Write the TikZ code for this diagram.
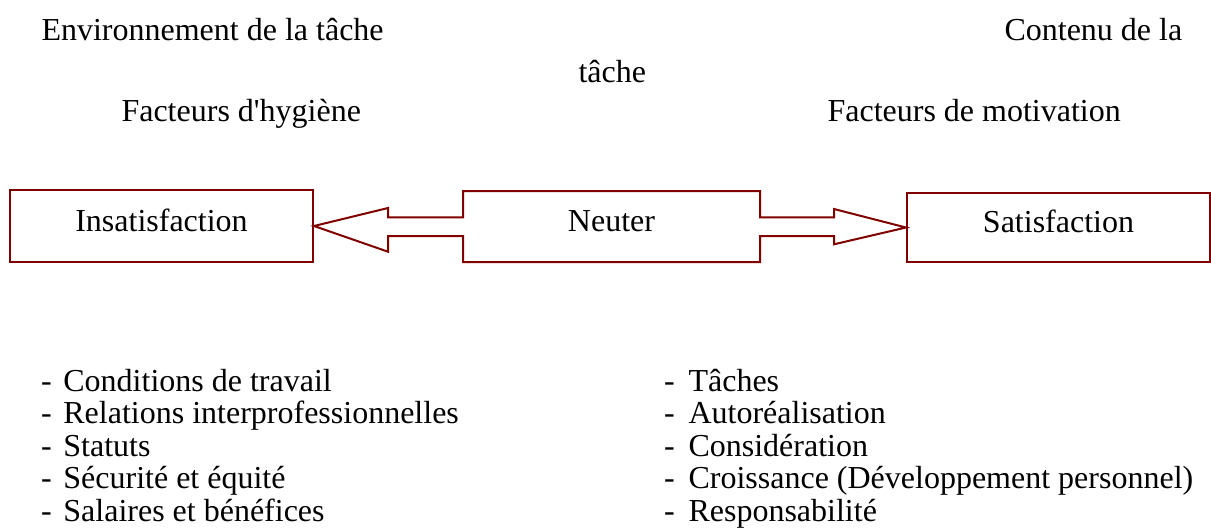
\documentclass[tikz,border=0pt]{standalone}
\usepackage{fontspec}
\setmainfont{Liberation Serif}
\usetikzlibrary{calc}
\definecolor{frame}{RGB}{128,0,0}
\begin{document}
\begin{tikzpicture}[x=0.375pt,y=-0.375pt,
  txt/.style={inner sep=0pt,font=\fontsize{12}{14}\selectfont},
  label/.style={txt,anchor=base west},
  boxed/.style={draw=frame,line width=0.75pt,inner sep=0pt,
    text height=9pt,text depth=5pt,font=\fontsize{12}{14}\selectfont},
  outline/.style={draw=frame,line width=0.75pt,line join=miter}]
\useasboundingbox (0,0) rectangle (1211,527);

% headings
\node[label] (env) at (41,40) {Environnement de la tâche};
\node[label] (cont) at (1004,40) {Contenu de la};
\node[label] (cont2) at (578,82) {tâche};
\node[label] (hyg) at (121,121) {Facteurs d\textquotesingle hygiène};
\node[label] (mot) at (827,121) {Facteurs de motivation};

% the three states
\node[boxed,minimum width=303*0.375pt,minimum height=72*0.375pt] (ins) at (161.5,226) {Insatisfaction};
\node[boxed,draw=none,minimum width=297*0.375pt,minimum height=71*0.375pt] (neu) at (611.5,226.5) {Neuter};
\node[boxed,minimum width=303*0.375pt,minimum height=69*0.375pt] (sat) at (1058.5,227.5) {Satisfaction};

% neutral box merged with the two block arrows
\draw[outline] (ins.east) -- (388,208) -- (388,217.3) -- (463,217.3) -- (463,191)
  -- (760,191) -- (760,217.3) -- (834,217.3) -- (834,209) -- (sat.west)
  -- (834,244.3) -- (834,236) -- (760,236) -- (760,262) -- (463,262)
  -- (463,236) -- (388,236) -- (388,251.7) -- cycle;

% hygiene factors
\foreach \t [count=\i] in {Conditions de travail,Relations interprofessionnelles,Statuts,Sécurité et équité,Salaires et bénéfices}
  \node[label] (h\i) at (40.5,{391+32.6*(\i-1)}) {\makebox[8.4pt][l]{-}\t};

% motivation factors
\foreach \t [count=\i] in {Tâches,Autoréalisation,Considération,Croissance (Développement personnel),Responsabilité}
  \node[label] (m\i) at (663.5,{391+32.6*(\i-1)}) {\makebox[9.2pt][l]{-}\t};
\end{tikzpicture}
\end{document}
